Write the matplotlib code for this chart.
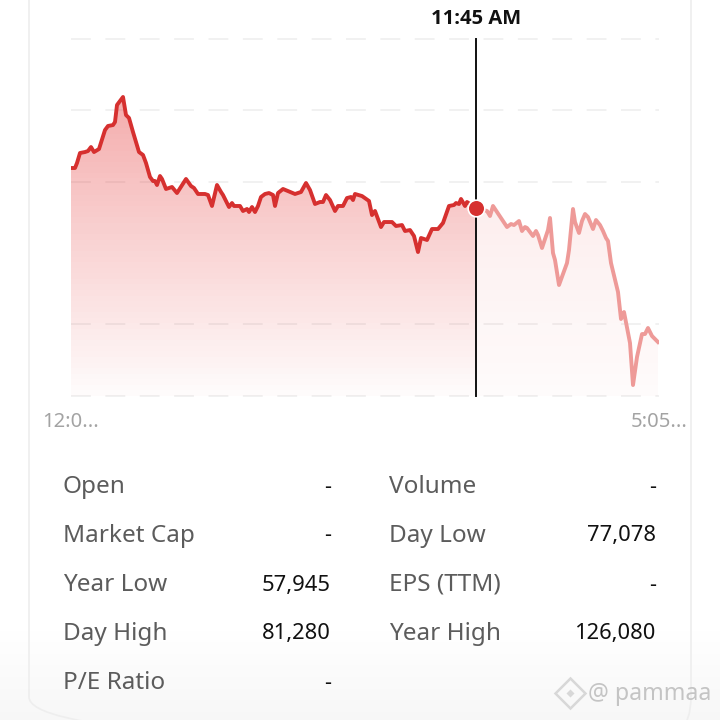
import numpy as np
import matplotlib
matplotlib.use('Agg')
import matplotlib.pyplot as plt
from matplotlib.patches import FancyBboxPatch, Polygon

plt.rcParams['font.family'] = ['Noto Sans', 'DejaVu Sans']

# sample position along the session, and the price
sample_pos = [0, 4, 6, 9, 14, 17, 20, 23, 28, 34, 37, 42, 44, 46, 52, 55, 58, 62, 68, 72, 75, 79, 82, 84, 86, 89, 91, 95,
              101, 106, 115, 120, 123, 127, 134, 137, 141, 146, 150, 152, 158, 161, 163, 169, 172, 176, 178, 181, 184,
              187, 190, 194, 198, 202, 204, 207, 212, 224, 230, 235, 239, 244, 249, 252, 255, 259, 264, 267, 272, 276,
              280, 282, 284, 291, 298, 301, 304, 310, 313, 321, 325, 331, 334, 339, 343, 347, 350, 356, 361, 367, 372,
              378, 383, 385, 388, 390, 394, 396, 405]
sample_val = [80244, 80244, 80317, 80463, 80477, 80492, 80550, 80477, 80521, 80798, 80857, 80871, 80915, 81163, 81280,
              81017, 80974, 80769, 80477, 80434, 80317, 80113, 80054, 80054, 79996, 80127, 80084, 79938, 79967, 79879,
              80084, 79981, 79952, 79865, 79865, 79850, 79690, 79996, 79894, 79850, 79675, 79733, 79690, 79690, 79617,
              79646, 79602, 79675, 79602, 79690, 79821, 79865, 79879, 79850, 79690, 79879, 79938, 79865, 79894, 80025,
              79923, 79719, 79748, 79748, 79850, 79777, 79617, 79690, 79690, 79806, 79821, 79777, 79865, 79835, 79763,
              79558, 79617, 79383, 79456, 79456, 79398, 79412, 79325, 79339, 79252, 79018, 79223, 79194, 79354, 79354,
              79442, 79690, 79704, 79733, 79719, 79792, 79690, 79748, 79660]
after_pos = [405, 416, 419, 422, 436, 440, 443, 448, 451, 454, 456, 462, 465, 467, 471, 477, 479, 482, 484, 488, 496,
             498, 502, 504, 508, 511, 514, 517, 522, 525, 529, 532, 535, 537, 540, 547, 550, 553, 559, 562, 566, 571,
             574, 577, 581, 587]
after_val = [79660, 79617, 79544, 79690, 79383, 79427, 79412, 79471, 79325, 79383, 79369, 79252, 79325, 79267, 79077,
             79339, 79515, 79004, 78902, 78537, 78858, 79048, 79646, 79456, 79296, 79471, 79573, 79529, 79354, 79485,
             79412, 79325, 79223, 79179, 78858, 78435, 78041, 78143, 77691, 77078, 77487, 77822, 77822, 77910, 77793,
             77705]

marker_pos = 405
marker_label = '11:45 AM'
grid_vals = [82126, 81090, 80040, 77968, 76918]
x_labels = ['12:0...', '5:05...']

left_rows = ['Open', 'Market Cap', 'Year Low', 'Day High', 'P/E Ratio']
left_values = ['-', '-', '57,945', '81,280', '-']
right_rows = ['Volume', 'Day Low', 'EPS (TTM)', 'Year High']
right_values = ['-', '77,078', '-', '126,080']


def gradient_fill(ax, x, y, top_alpha, low_alpha):
    y0, y1 = ax.get_ylim()
    cmap = np.zeros((64, 1, 4))
    cmap[..., 0] = 0.90
    cmap[..., 1] = 0.20
    cmap[..., 2] = 0.20
    cmap[..., 3] = np.linspace(top_alpha, low_alpha, 64)[:, None]
    im = ax.imshow(cmap, extent=[min(x), max(x), y0, y1], aspect='auto', origin='upper', zorder=2)
    poly = Polygon(np.column_stack([[x[0], *x, x[-1]], [y0, *y, y0]]), transform=ax.transData,
                   facecolor='none', edgecolor='none')
    ax.add_patch(poly)
    im.set_clip_path(poly)


fig = plt.figure(figsize=(7.2, 7.2), dpi=100)

# page background, card and all the text live in pixel coords
bg = fig.add_axes([0, 0, 1, 1])
shade = np.ones((90, 1, 3)) * np.linspace(1, 0.97, 90)[:, None, None]
bg.imshow(shade, extent=[0, 720, 720, 630], aspect='auto', zorder=0)
bg.set_xlim(0, 720)
bg.set_ylim(720, 0)
bg.axis('off')
card = FancyBboxPatch((29, -60), 662, 805, boxstyle='round,pad=0,rounding_size=48',
                      facecolor='none', edgecolor='#eeeeee', linewidth=1.2, zorder=1)
bg.add_patch(card)

ax = fig.add_axes([71 / 720, 1 - 396 / 720, 588 / 720, 357 / 720])
ax.patch.set_alpha(0)
ax.set_xlim(0, 588)
ax.set_ylim(grid_vals[-1], grid_vals[0])
ax.axis('off')

for g in grid_vals:
    ax.plot([0, 588], [g, g], color='#eeeeee', lw=1.1, dashes=(13, 9.5), zorder=1, clip_on=False)

gradient_fill(ax, sample_pos, sample_val, 0.48, 0.02)
gradient_fill(ax, after_pos, after_val, 0.14, 0.02)
ax.set_xlim(0, 588)
ax.set_ylim(grid_vals[-1], grid_vals[0])

ax.plot(after_pos, after_val, color='#ee9a98', lw=2.8, zorder=3)
ax.plot(sample_pos, sample_val, color='#d6302f', lw=2.8, zorder=4)
ax.plot([marker_pos, marker_pos], [grid_vals[-1], grid_vals[0]], color='#111111', lw=1.4, zorder=5, clip_on=False)
ax.plot([marker_pos], [sample_val[-1]], 'o', ms=12, mfc='#d6302f', mec='white', mew=1.2, zorder=6)

bg.text(476, 19, marker_label, ha='center', va='center', fontsize=14.5, fontweight='bold', color='#111111',
        family=['Open Sans', 'DejaVu Sans'])
bg.text(71, 422, x_labels[0], ha='center', va='center', fontsize=14.5, color='#a3a3a3')
bg.text(659, 422, x_labels[1], ha='center', va='center', fontsize=14.5, color='#a3a3a3')

row_y = [487, 536, 585, 634, 683]
for y, name, val in zip(row_y, left_rows, left_values):
    bg.text(63, y, name, ha='left', va='center', fontsize=17.5, color='#5c5c5c')
    bg.text(331, y, val, ha='right', va='center', fontsize=15.8, color='#111111')
for y, name, val in zip(row_y, right_rows, right_values):
    bg.text(389, y, name, ha='left', va='center', fontsize=17.5, color='#5c5c5c')
    bg.text(656, y, val, ha='right', va='center', fontsize=15.8, color='#111111')

# watermark
bg.plot([570], [693], marker='D', ms=15, mfc='none', mec='#d8d8d8', mew=1.8, zorder=3)
bg.plot([570], [693], marker='D', ms=4.5, mfc='#d8d8d8', mec='none', zorder=3)
bg.text(588, 694, '@ pammaa', ha='left', va='center', fontsize=16.7, color='#c4c4c4', zorder=3)

fig.savefig('out.png', dpi=100)
